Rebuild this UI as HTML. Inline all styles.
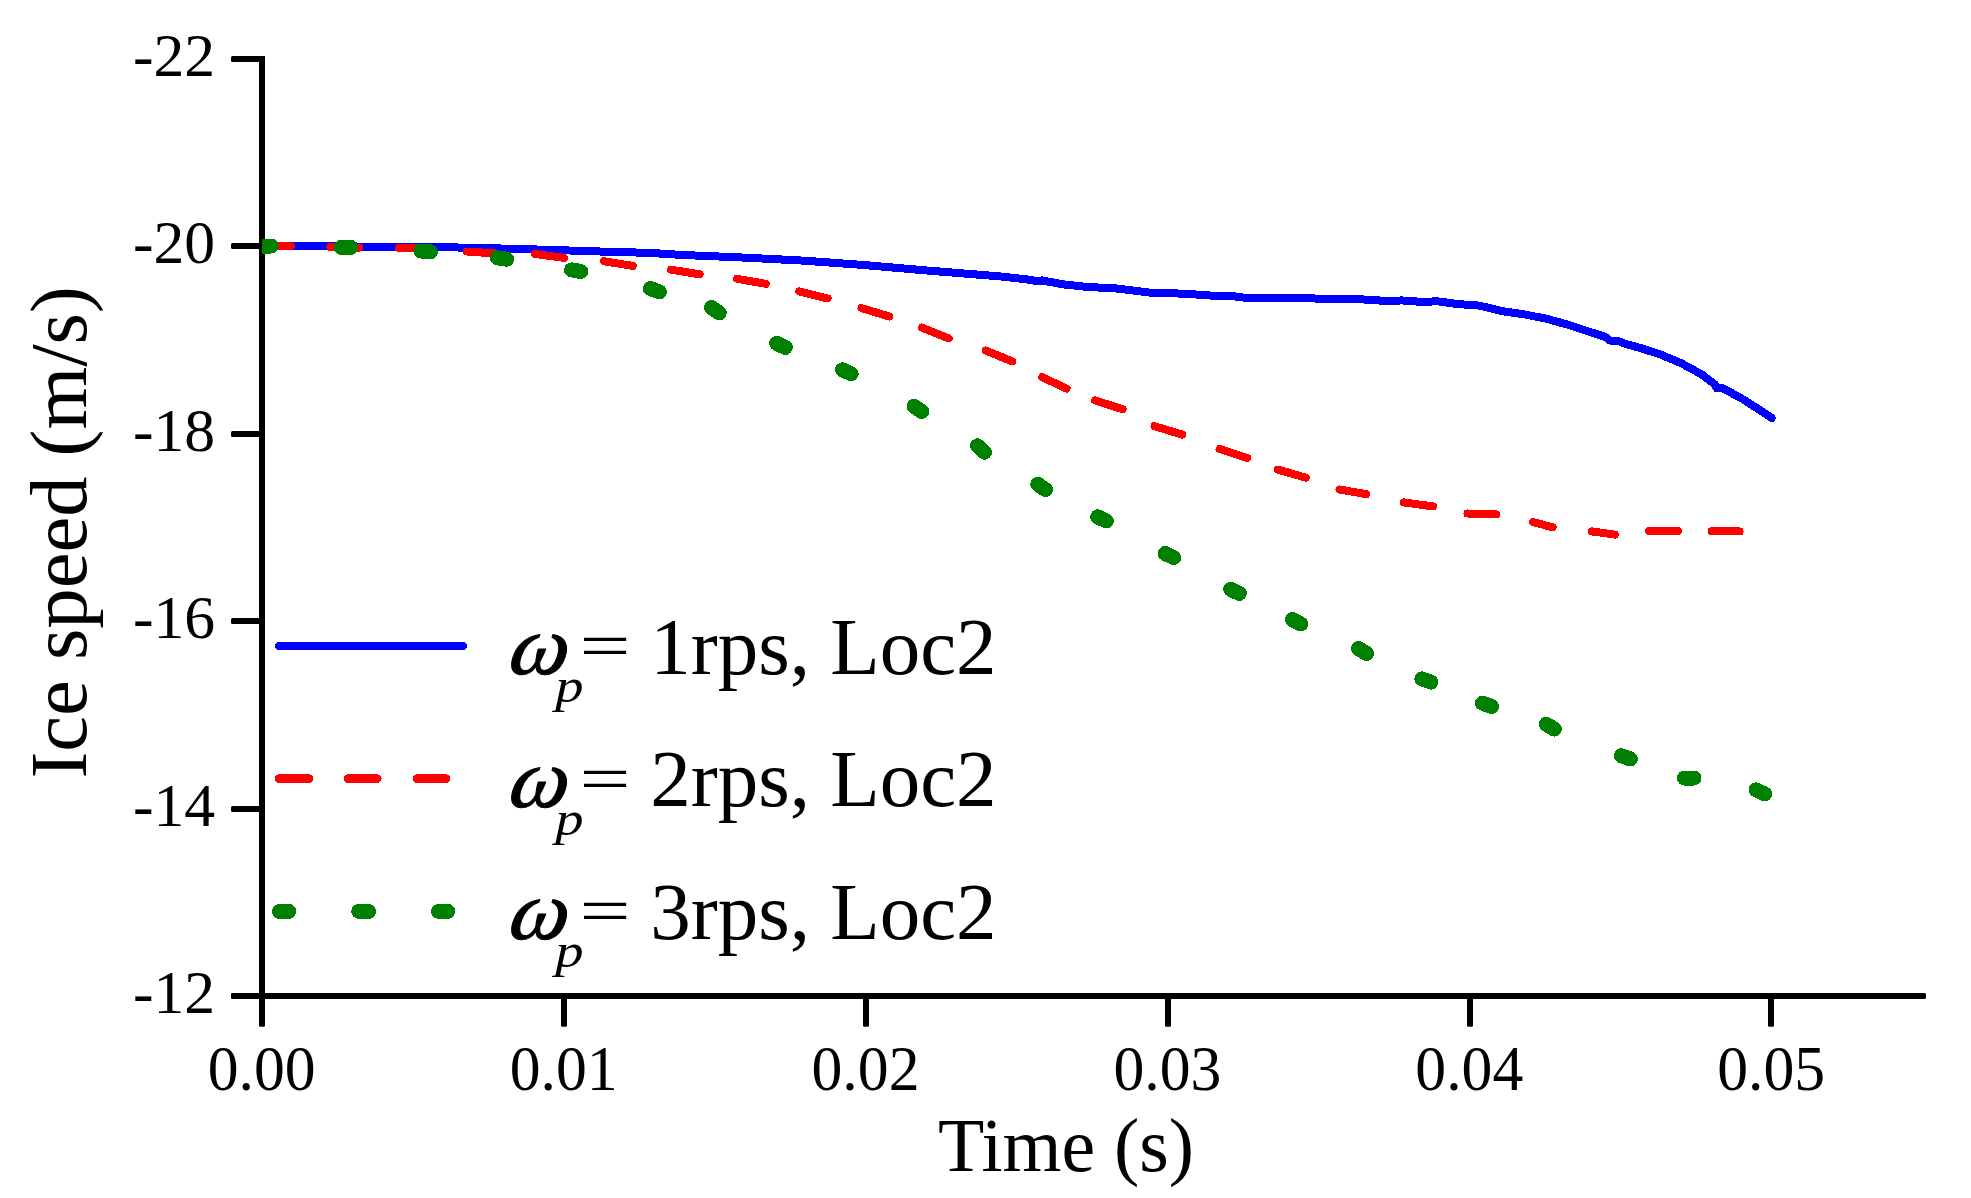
<!DOCTYPE html>
<html><head><meta charset="utf-8"><title>Ice speed</title>
<style>
html,body{margin:0;padding:0;background:#fff;}
svg{display:block;}
text{font-family:"Liberation Serif","DejaVu Serif",serif;fill:#000;}
.tk{font-size:61.7px;}
.lg{font-size:80.5px;}
</style></head><body>
<svg width="1971" height="1198" viewBox="0 0 1971 1198">
<rect width="1971" height="1198" fill="#fff"/>

<rect x="259" y="56" width="6" height="943" fill="#000"/>
<rect x="231" y="993" width="1695" height="6" rx="1.5" fill="#000"/>
<rect x="231" y="56" width="31" height="6" rx="1.5" fill="#000"/>
<rect x="231" y="243" width="31" height="6" rx="1.5" fill="#000"/>
<rect x="231" y="431" width="31" height="6" rx="1.5" fill="#000"/>
<rect x="231" y="618" width="31" height="6" rx="1.5" fill="#000"/>
<rect x="231" y="806" width="31" height="6" rx="1.5" fill="#000"/>
<rect x="231" y="993" width="31" height="6" rx="1.5" fill="#000"/>
<rect x="259" y="996" width="6" height="30.8" rx="1.5" fill="#000"/>
<rect x="561" y="996" width="6" height="30.8" rx="1.5" fill="#000"/>
<rect x="863" y="996" width="6" height="30.8" rx="1.5" fill="#000"/>
<rect x="1165" y="996" width="6" height="30.8" rx="1.5" fill="#000"/>
<rect x="1467" y="996" width="6" height="30.8" rx="1.5" fill="#000"/>
<rect x="1768" y="996" width="6" height="30.8" rx="1.5" fill="#000"/>
<text class="tk" transform="translate(215.2 75.9) scale(1 1.003)" text-anchor="end">-22</text>
<text class="tk" transform="translate(215.2 263.3) scale(1 1.003)" text-anchor="end">-20</text>
<text class="tk" transform="translate(215.2 450.7) scale(1 1.003)" text-anchor="end">-18</text>
<text class="tk" transform="translate(215.2 638.1) scale(1 1.003)" text-anchor="end">-16</text>
<text class="tk" transform="translate(215.2 825.5) scale(1 1.003)" text-anchor="end">-14</text>
<text class="tk" transform="translate(215.2 1012.9) scale(1 1.003)" text-anchor="end">-12</text>
<text class="tk" transform="translate(261.7 1090) scale(1 1.02)" text-anchor="middle">0.00</text>
<text class="tk" transform="translate(563.6 1090) scale(1 1.02)" text-anchor="middle">0.01</text>
<text class="tk" transform="translate(865.5 1090) scale(1 1.02)" text-anchor="middle">0.02</text>
<text class="tk" transform="translate(1167.4 1090) scale(1 1.02)" text-anchor="middle">0.03</text>
<text class="tk" transform="translate(1469.3 1090) scale(1 1.02)" text-anchor="middle">0.04</text>
<text class="tk" transform="translate(1771.2 1090) scale(1 1.02)" text-anchor="middle">0.05</text>
<text x="1066" y="1170.7" text-anchor="middle" font-size="75.8">Time (s)</text>
<text transform="translate(86.4 532.4) rotate(-90)" text-anchor="middle" font-size="80.6">Ice speed (m/s)</text>
<clipPath id="c"><rect x="262" y="0" width="1709" height="996"/></clipPath>
<g shape-rendering="crispEdges" clip-path="url(#c)" fill="none" stroke-linecap="round" stroke-linejoin="round">
<path stroke="#0000ff" stroke-width="8" d="M262.0 246.0L294.6 246.0L345.0 246.4L400.0 246.9L453.0 247.4L505.0 248.6L554.0 250.0L600.0 251.5L650.0 252.9L681.2 254.9L742.0 257.5L803.0 260.6L863.8 265.0L924.7 270.3L1000.0 276.4L1025.4 279.2L1038.0 281.3L1041.9 280.4L1063.4 284.4L1088.8 287.1L1114.2 288.2L1126.8 289.7L1152.2 292.9L1177.6 293.5L1203.0 294.9L1215.6 296.0L1234.7 296.4L1250.0 298.4L1304.4 298.4L1355.0 298.9L1390.0 301.2L1401.2 300.4L1423.5 302.0L1436.9 301.2L1457.0 304.0L1479.3 305.6L1501.6 311.1L1523.9 314.3L1546.3 318.7L1568.6 324.9L1590.9 332.2L1605.2 336.9L1610.3 340.6L1620.4 341.6L1623.5 343.3L1640.7 348.1L1661.0 354.7L1681.3 363.3L1701.6 374.3L1714.8 384.4L1716.8 388.3L1721.9 387.7L1742.2 398.8L1762.5 411.8L1771.6 417.9"/>
<path stroke="#ff0000" stroke-width="8" d="M262 246H291M330.4 247.0L359.4 247.6M399.0 247.8L428.0 248.8M467.0 251.5L496.0 253.5M535.1 253.9L563.9 257.9M604.1 261.3L632.7 265.9M671.1 269.7L699.7 274.3M737.1 278.8L765.7 283.8M799.4 291.4L827.6 298.4M861.5 308.1L889.3 316.5M921.9 327.6L948.7 338.4M985.6 350.6L1012.4 361.4M1042.2 377.2L1066.6 388.6M1095.0 400.3L1122.6 409.3M1154.5 426.2L1182.3 434.6M1219.6 449.0L1247.2 458.0M1277.9 469.6L1305.7 477.6M1339.5 489.5L1366.1 494.1M1404.0 502.4L1432.8 506.4M1467.4 513.5L1496.4 514.5M1533.1 522.1L1552.5 527.3M1592.0 531.4L1614.8 534.6M1649.2 531.0L1678.2 531.0M1711.6 531.1L1739.6 531.5"/>
<path stroke="#008000" stroke-width="15" d="M262 246H271.2M341.1 247.4L350.6 247.4M421.0 251.0L430.4 251.8M497.3 257.8L506.7 259.2M571.5 269.9L580.9 271.5M650.3 288.6L659.3 291.8M711.4 307.6L719.2 313.0M776.7 343.4L785.3 347.4M842.5 369.8L851.1 373.8M914.1 406.2L921.9 411.6M977.5 445.8L984.5 452.2M1037.8 484.3L1045.6 489.7M1097.7 516.9L1106.3 520.9M1165.1 553.5L1173.7 557.5M1230.7 589.4L1239.3 593.4M1292.4 619.6L1300.8 624.0M1358.4 648.6L1366.6 653.4M1421.9 678.9L1430.9 682.1M1482.4 703.2L1491.4 706.4M1546.2 724.3L1554.4 729.1M1621.3 755.7L1630.3 758.9M1684.5 778.0L1694.0 778.0M1756.1 789.9L1764.7 793.9"/>
</g>
<g shape-rendering="crispEdges" fill="none" stroke-linecap="round">
<path stroke="#0000ff" stroke-width="8" d="M279 645.9H463"/>
<path stroke="#ff0000" stroke-width="8.5" d="M279 778.6H309M348 778.6H377.3M417 778.6H446"/>
<path stroke="#008000" stroke-width="15" d="M279.5 911.4H288.6M358.7 911.4H368.5M438.6 911.4H447.6"/>
</g>
<g transform="translate(504.1 674.3) skewX(-18) scale(1.02 0.955)"><text font-size="88" stroke="#000" stroke-width="1.1">ω</text></g>
<g transform="translate(555.2 702.0) scale(1.09 0.92)"><text font-style="italic" font-size="52">p</text></g>
<g transform="translate(579.6 668.3) scale(1.125 0.825)"><text class="lg">=</text></g>
<text x="650.2" y="673.8" style="font-size:81px">1rps, Loc2</text>
<g transform="translate(504.1 806.8) skewX(-18) scale(1.02 0.955)"><text font-size="88" stroke="#000" stroke-width="1.1">ω</text></g>
<g transform="translate(555.2 834.5) scale(1.09 0.92)"><text font-style="italic" font-size="52">p</text></g>
<g transform="translate(579.6 800.8) scale(1.125 0.825)"><text class="lg">=</text></g>
<text x="650.2" y="806.3" style="font-size:81px">2rps, Loc2</text>
<g transform="translate(504.1 939.3) skewX(-18) scale(1.02 0.955)"><text font-size="88" stroke="#000" stroke-width="1.1">ω</text></g>
<g transform="translate(555.2 967.0) scale(1.09 0.92)"><text font-style="italic" font-size="52">p</text></g>
<g transform="translate(579.6 933.3) scale(1.125 0.825)"><text class="lg">=</text></g>
<text x="650.2" y="938.8" style="font-size:81px">3rps, Loc2</text>
</svg></body></html>
